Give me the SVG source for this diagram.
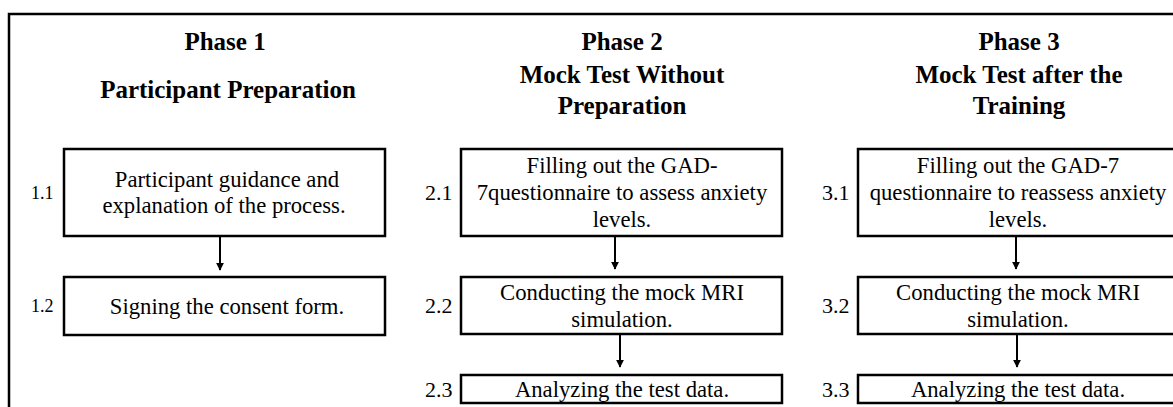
<svg xmlns="http://www.w3.org/2000/svg" width="1173" height="407" viewBox="0 0 1173 407">
<style>
.t{font-family:"Liberation Serif","Times New Roman",serif;font-weight:bold;font-size:25px;text-anchor:middle;fill:#000}
.b{font-family:"Liberation Serif","Times New Roman",serif;font-size:22.7px;text-anchor:middle;fill:#000}
.l{font-family:"Liberation Serif","Times New Roman",serif;font-size:22px;fill:#000}
.ls{font-family:"Liberation Serif","Times New Roman",serif;font-size:18px;fill:#000}
.box{fill:#fff;stroke:#000;stroke-width:2.5}
.c{stroke:#000;stroke-width:2;fill:none}
</style>
<defs>
<marker id="ah" viewBox="0 0 10 10" refX="9" refY="5" markerWidth="4" markerHeight="4" orient="auto" markerUnits="strokeWidth">
<path d="M0,0 L10,5 L0,10 Z" fill="#000"/>
</marker>
</defs>
<rect width="1173" height="407" fill="#fff"/>
<rect id="frame" x="9" y="14" width="1200" height="450" fill="none" stroke="#000" stroke-width="2.5"/>

<g id="phase1-title">
<text class="t" x="225" y="50">Phase 1</text>
<text class="t" x="228" y="98">Participant Preparation</text>
</g>
<g id="phase2-title">
<text class="t" x="622" y="50">Phase 2</text>
<text class="t" x="622" y="83">Mock Test Without</text>
<text class="t" x="622" y="114">Preparation</text>
</g>
<g id="phase3-title">
<text class="t" x="1019" y="50">Phase 3</text>
<text class="t" x="1019" y="83">Mock Test after the</text>
<text class="t" x="1019" y="114">Training</text>
</g>

<g id="n1-1">
<rect class="box" x="64" y="149" width="321" height="87"/>
<text class="ls" x="31" y="199">1.1</text>
<text class="b" x="227" y="187">Participant guidance and</text>
<text class="b" x="224" y="213">explanation of the process.</text>
</g>
<g id="n1-2">
<rect class="box" x="64" y="277" width="321" height="58"/>
<text class="ls" x="31" y="312">1.2</text>
<text class="b" x="227" y="314">Signing the consent form.</text>
</g>

<g id="n2-1">
<rect class="box" x="461" y="149" width="321" height="87"/>
<text class="l" x="425" y="200">2.1</text>
<text class="b" x="622" y="173">Filling out the GAD-</text>
<text class="b" x="622" y="200">7questionnaire to assess anxiety</text>
<text class="b" x="622" y="227">levels.</text>
</g>
<g id="n2-2">
<rect class="box" x="461" y="277" width="321" height="57"/>
<text class="l" x="425" y="313">2.2</text>
<text class="b" x="622" y="300">Conducting the mock MRI</text>
<text class="b" x="622" y="327">simulation.</text>
</g>
<g id="n2-3">
<rect class="box" x="461" y="375" width="321" height="28"/>
<text class="l" x="425" y="397">2.3</text>
<text class="b" x="622" y="397">Analyzing the test data.</text>
</g>

<g id="n3-1">
<rect class="box" x="858" y="149" width="330" height="87"/>
<text class="l" x="822" y="200">3.1</text>
<text class="b" x="1018" y="173">Filling out the GAD-7</text>
<text class="b" x="1018" y="200">questionnaire to reassess anxiety</text>
<text class="b" x="1018" y="227">levels.</text>
</g>
<g id="n3-2">
<rect class="box" x="858" y="277" width="330" height="57"/>
<text class="l" x="822" y="313">3.2</text>
<text class="b" x="1018" y="300">Conducting the mock MRI</text>
<text class="b" x="1018" y="327">simulation.</text>
</g>
<g id="n3-3">
<rect class="box" x="858" y="375" width="330" height="28"/>
<text class="l" x="822" y="397">3.3</text>
<text class="b" x="1018" y="397">Analyzing the test data.</text>
</g>

<g id="connectors">
<line class="c" x1="220" y1="237" x2="220" y2="270" marker-end="url(#ah)"/>
<line class="c" x1="615" y1="237" x2="615" y2="269" marker-end="url(#ah)"/>
<line class="c" x1="620" y1="335" x2="620" y2="367" marker-end="url(#ah)"/>
<line class="c" x1="1016" y1="237" x2="1016" y2="269" marker-end="url(#ah)"/>
<line class="c" x1="1017" y1="335" x2="1017" y2="367" marker-end="url(#ah)"/>
</g>
</svg>
